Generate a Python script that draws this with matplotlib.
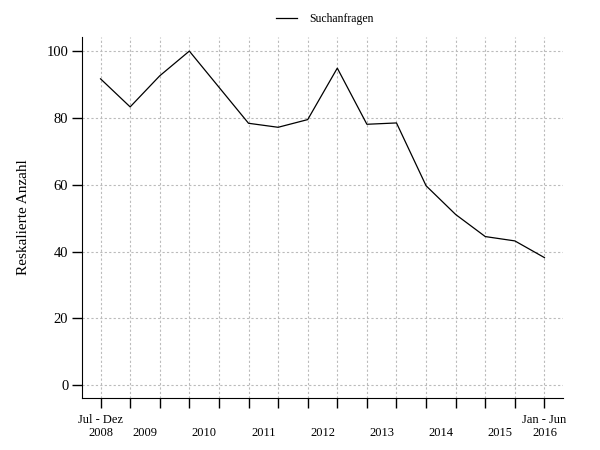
import matplotlib
matplotlib.use('Agg')
import matplotlib.pyplot as plt

# Halbjahre Jul-Dez 2008 bis Jan-Jun 2016
halbjahr = list(range(1, 17))
werte = [91.7, 83.3, 92.6, 100.0, 89.2, 78.4, 77.2, 79.5,
         94.9, 78.1, 78.5, 59.7, 51.1, 44.5, 43.2, 38.2]

jahr_pos = [2.5, 4.5, 6.5, 8.5, 10.5, 12.5, 14.5]
jahr_labels = ['2009', '2010', '2011', '2012', '2013', '2014', '2015']
y_ticks = [0, 20, 40, 60, 80, 100]

plt.rcParams['font.family'] = ['Liberation Serif', 'DejaVu Serif']

fig = plt.figure(figsize=(6, 4.5), dpi=100)
ax = fig.add_axes([0.137, 0.1156, 0.801, 0.8028])

ax.plot(halbjahr, werte, color='black', linewidth=0.9, label='Suchanfragen')

ax.set_xlim(0.38, 16.62)
ax.set_ylim(-3.8, 104.3)

# Hauptticks an jedem Halbjahr, Beschriftung nur an den Enden
ax.set_xticks(halbjahr)
major_labels = [''] * 16
major_labels[0] = 'Jul - Dez\n2008'
major_labels[-1] = 'Jan - Jun\n2016'
ax.set_xticklabels(major_labels, fontsize=9)

# Jahreszahlen zwischen den Ticks (zweite Zeile)
ax.set_xticks(jahr_pos, minor=True)
ax.set_xticklabels(jahr_labels, minor=True, fontsize=9)
ax.tick_params(axis='x', which='minor', length=0, pad=20.8)
ax.tick_params(axis='x', which='major', length=7, width=1, pad=4.2)

ax.set_yticks(y_ticks)
ax.set_yticklabels([str(t) for t in y_ticks], fontsize=10.5)
ax.tick_params(axis='y', length=7, width=1, pad=3)

ax.set_ylabel('Reskalierte Anzahl', fontsize=11, labelpad=12)

ax.grid(True, which='major', linestyle=(0, (2, 2)), color='#bbbbbb', linewidth=0.8)

ax.spines['top'].set_visible(False)
ax.spines['right'].set_visible(False)

ax.legend(loc='center', bbox_to_anchor=(0.505, 1.049), frameon=False,
          fontsize=8.5, handlelength=1.8, handletextpad=1.0)

fig.savefig('out.png', dpi=100)
